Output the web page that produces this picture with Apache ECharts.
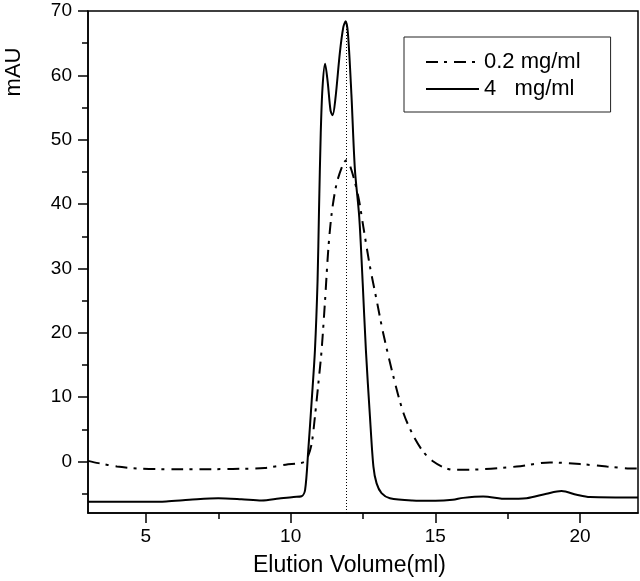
<!DOCTYPE html>
<html>
<head>
<meta charset="utf-8">
<script src="https://cdn.jsdelivr.net/npm/echarts@6/dist/echarts.min.js"></script>
<style>html,body{margin:0;padding:0;background:#fff;}#c{width:640px;height:581px;}</style>
</head>
<body>
<div id="c"></div>
<script>
// Elution volume (ml) and absorbance (mAU)
var solidX = [3.0, 4.0, 5.0, 5.7, 6.5, 7.5, 8.3, 9.0, 9.6, 10.1, 10.38, 10.5, 10.61, 10.73, 10.84, 10.93, 10.98, 11.04, 11.1, 11.19, 11.28, 11.38, 11.45, 11.55, 11.7, 11.82, 11.9, 11.98, 12.1, 12.22, 12.37, 12.49, 12.6, 12.74, 12.86, 12.97, 13.14, 13.43, 14.2, 15.0, 15.6, 15.96, 16.65, 17.46, 18.15, 18.84, 19.36, 19.88, 20.34, 22.0];
var solidY = [-6.25, -6.25, -6.25, -6.2, -5.95, -5.7, -5.85, -6.05, -5.75, -5.5, -5.4, -4.4, 1.8, 9.6, 17.3, 28.0, 39.0, 51.0, 58.0, 61.8, 59.0, 54.5, 53.8, 56.5, 63.5, 67.5, 68.4, 66.5, 57.0, 45.4, 38.0, 27.7, 17.3, 7.0, -0.8, -3.4, -4.9, -5.7, -6.05, -6.1, -5.95, -5.65, -5.43, -5.8, -5.7, -5.0, -4.6, -5.17, -5.53, -5.6];
var dashX = [3.0, 3.36, 4.0, 4.8, 6.0, 6.9, 8.0, 9.1, 9.83, 10.46, 10.6, 10.73, 10.84, 10.96, 11.07, 11.19, 11.3, 11.42, 11.59, 11.82, 11.93, 12.1, 12.34, 12.51, 12.74, 12.97, 13.2, 13.55, 13.9, 14.24, 14.6, 14.93, 15.27, 15.62, 16.65, 17.81, 18.96, 20.0, 20.92, 21.72, 22.0];
var dashY = [0.1, -0.25, -0.78, -1.1, -1.2, -1.2, -1.15, -1.0, -0.5, -0.1, 0.8, 2.85, 7.0, 12.2, 17.3, 25.1, 32.9, 38.6, 43.2, 46.3, 46.8, 45.3, 41.1, 36.5, 30.3, 25.1, 19.9, 13.2, 7.5, 4.0, 1.4, 0.0, -0.87, -1.3, -1.2, -0.78, -0.15, -0.4, -0.78, -1.08, -1.1];
var seriesNames = ['0.2 mg/ml', '4   mg/ml'];
var xMajorTicks = [5, 10, 15, 20];
var xMinorTicks = [7.5, 12.5, 17.5];
var yMajorTicks = [0, 10, 20, 30, 40, 50, 60, 70];
var yMinorTicks = [-5, 5, 15, 25, 35, 45, 55, 65];
var peakLineX = 11.92;
var peakLineTop = 67.8;
var xRange = [3, 22];
var yRange = [-8, 70];

function zip(xs, ys) { return xs.map(function (x, i) { return [x, ys[i]]; }); }

var FONT = 'Liberation Sans, Arial, sans-serif';
var chart = echarts.init(document.getElementById('c'), null, { renderer: 'canvas' });
var axisLine = { show: true, onZero: false, lineStyle: { color: '#000', width: 1.5 } };
var noLine = { show: false, onZero: false };

chart.setOption({
  animation: false,
  backgroundColor: '#fff',
  grid: { left: 88, top: 11, width: 550, height: 502, show: true, borderColor: '#000', borderWidth: 1.5, backgroundColor: 'transparent' },
  legend: {
    orient: 'vertical', left: 404, top: 37,
    padding: [14, 30, 12, 21],
    borderColor: '#222', borderWidth: 1,
    itemWidth: 53, itemHeight: 22, itemGap: 5,
    itemStyle: { opacity: 0 },
    textStyle: { fontSize: 22, fontFamily: FONT, color: '#000', lineHeight: 22 },
    data: [seriesNames[0], seriesNames[1]]
  },
  xAxis: [
    { type: 'value', position: 'bottom', min: xRange[0], max: xRange[1],
      axisLine: axisLine, splitLine: { show: false },
      axisTick: { show: true, inside: false, length: 10, customValues: xMajorTicks, lineStyle: { color: '#000', width: 1.5 } },
      axisLabel: { customValues: xMajorTicks, margin: 14, fontSize: 19, fontFamily: FONT, color: '#000' } },
    { type: 'value', position: 'bottom', min: xRange[0], max: xRange[1],
      axisLine: noLine, splitLine: { show: false },
      axisTick: { show: true, inside: false, length: 6, customValues: xMinorTicks, lineStyle: { color: '#000', width: 1.5 } },
      axisLabel: { show: false } }
  ],
  yAxis: [
    { type: 'value', position: 'left', min: yRange[0], max: yRange[1],
      axisLine: axisLine, splitLine: { show: false },
      axisTick: { show: true, inside: false, length: 10, customValues: yMajorTicks, lineStyle: { color: '#000', width: 1.5 } },
      axisLabel: { customValues: yMajorTicks, margin: 16, fontSize: 19, fontFamily: FONT, color: '#000' } },
    { type: 'value', position: 'left', min: yRange[0], max: yRange[1],
      axisLine: noLine, splitLine: { show: false },
      axisTick: { show: true, inside: false, length: 6, customValues: yMinorTicks, lineStyle: { color: '#000', width: 1.5 } },
      axisLabel: { show: false } }
  ],
  series: [
    { name: seriesNames[0], type: 'line', xAxisIndex: 0, yAxisIndex: 0,
      data: zip(dashX, dashY), showSymbol: false, symbol: 'none', smooth: 0.3,
      lineStyle: { color: '#000', width: 2, type: [12, 6, 3, 7] }, itemStyle: { color: '#000' } },
    { name: seriesNames[1], type: 'line', xAxisIndex: 0, yAxisIndex: 0,
      data: zip(solidX, solidY), showSymbol: false, symbol: 'none', smooth: 0.3,
      lineStyle: { color: '#000', width: 2, type: 'solid' }, itemStyle: { color: '#000' },
      markLine: { silent: true, symbol: 'none', animation: false, label: { show: false },
        lineStyle: { color: '#000', width: 1, type: [1, 2] },
        data: [[{ coord: [peakLineX, yRange[0]] }, { coord: [peakLineX, peakLineTop] }]] } }
  ],
  graphic: [
    { type: 'text', left: 253, top: 554, style: { text: 'Elution Volume(ml)', font: '23px ' + FONT, fill: '#000' } },
    { type: 'text', x: 13.5, y: 72, rotation: Math.PI / 2, style: { text: 'mAU', font: '22px ' + FONT, fill: '#000', align: 'center', verticalAlign: 'middle' } }
  ]
});
</script>
</body>
</html>
